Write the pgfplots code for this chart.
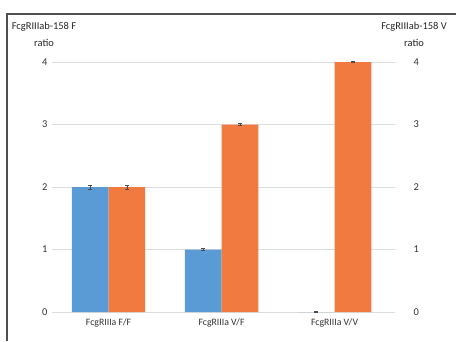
\documentclass[border=0pt]{standalone}
\usepackage{pgfplots}
\pgfplotsset{compat=1.18}
\usepackage{fontspec}
\setmainfont{Carlito}
\definecolor{cblue}{HTML}{5B9BD5}
\definecolor{corange}{HTML}{F07A3F}
\definecolor{gridc}{HTML}{DDDDDD}
\definecolor{framec}{HTML}{505050}
\begin{document}
\begin{tikzpicture}[x=1bp,y=1bp]
\useasboundingbox (0,0) rectangle (456,341);
\draw[framec, line width=1.3bp] (7,0) -- (7,327) -- (456,327);
\begin{axis}[
  at={(52bp,29bp)}, anchor=south west,
  scale only axis, width=343bp, height=250bp,
  xmin=-0.5, xmax=2.535, ymin=0, ymax=4,
  axis line style={draw=none},
  ytick={0,1,2,3,4},
  ymajorgrids, grid style={gridc, line width=0.6bp},
  major tick length=0pt,
  xtick={0,1,2},
  xticklabels={FcgRIIIa F/F, FcgRIIIa V/F, FcgRIIIa V/V},
  x tick label style={font=\fontsize{9.8}{10}\selectfont, text=black!80, yshift=-3bp},
  y tick label style={font=\fontsize{10.5}{11}\selectfont, text=black!80, xshift=-1bp},
  /pgf/number format/assume math mode=true,
  ylabel={}, clip=false,
  ybar, bar width=0.325,
  error bars/error bar style={black!70, line width=0.6bp},
  error bars/error mark options={black!70, line width=0.7bp, mark size=1.8bp, rotate=90},
]
\addplot[fill=cblue, draw=none, bar shift=-0.1625,
  error bars/.cd, y dir=both, y explicit]
  coordinates {(0,2) +- (0,0.03) (1,1) +- (0,0.012) (2,0) +- (0,0.01)};
\addplot[fill=corange, draw=none, bar shift=0.1625,
  error bars/.cd, y dir=both, y explicit]
  coordinates {(0,2) +- (0,0.03) (1,3) +- (0,0.012) (2,4) +- (0,0.005)};
\node[font=\fontsize{10.5}{17}\selectfont, text=black!85, align=center] at (axis cs:-0.5,4) [xshift=-8bp, yshift=28bp] {FcgRIIIab-158 F\\ratio};
\end{axis}
\begin{axis}[
  at={(52bp,29bp)}, anchor=south west,
  scale only axis, width=343bp, height=250bp,
  xmin=-0.5, xmax=2.535, ymin=0, ymax=4,
  axis line style={draw=none},
  hide x axis,
  axis y line*=right,
  ytick={0,1,2,3,4},
  major tick length=0pt,
  y tick label style={font=\fontsize{10.5}{11}\selectfont, text=black!80, xshift=15bp},
  /pgf/number format/assume math mode=true,
  clip=false,
]
\addplot[draw=none] coordinates {(0,0)};
\node[font=\fontsize{10.5}{17}\selectfont, text=black!85, align=center] at (axis cs:2.535,4) [xshift=19bp, yshift=28bp] {FcgRIIIab-158 V\\ratio};
\end{axis}
\end{tikzpicture}
\end{document}
